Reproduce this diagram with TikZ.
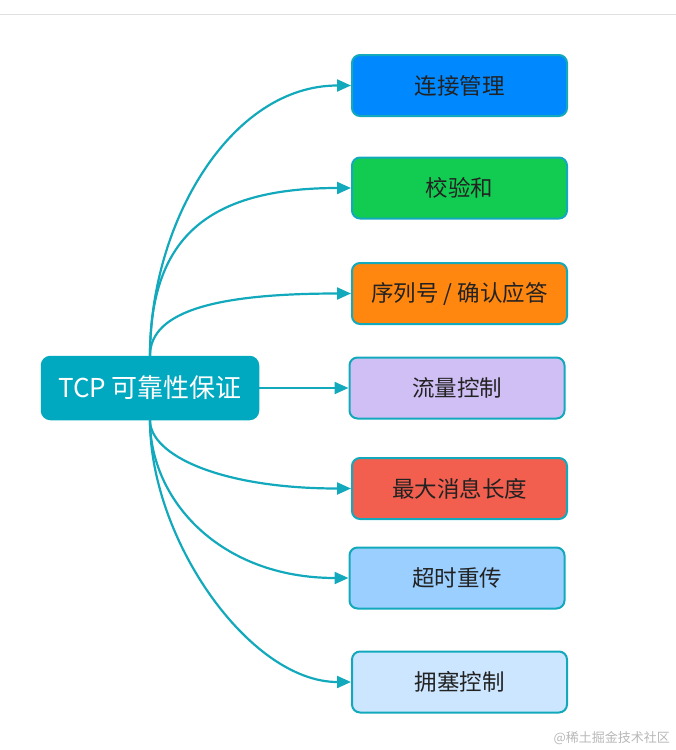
\documentclass[tikz,border=0pt]{standalone}
\usepackage{fontspec}
\setmainfont{Noto Sans CJK SC}
\usetikzlibrary{arrows.meta}
\definecolor{rootfill}{HTML}{00A9C0}
\definecolor{edge}{HTML}{13A9BC}
\definecolor{cA}{HTML}{0088FF}
\definecolor{cB}{HTML}{12CC52}
\definecolor{cC}{HTML}{FF870F}
\definecolor{cD}{HTML}{D0BFF5}
\definecolor{cE}{HTML}{F25F4E}
\definecolor{cF}{HTML}{9BCFFF}
\definecolor{cG}{HTML}{CCE6FF}
\definecolor{txt}{HTML}{222222}
\begin{document}
\begin{tikzpicture}[x=1pt,y=-1pt,
  rootbox/.style={draw=rootfill,fill=rootfill,rounded corners=9pt,line width=1.5pt,
    minimum width=217pt,minimum height=63pt,inner sep=0pt,text=white,
    font=\fontsize{26}{30}\selectfont},
  leaf/.style={draw=edge,rounded corners=8pt,line width=2pt,
    minimum width=215pt,minimum height=61pt,inner sep=0pt,text=txt,
    font=\fontsize{22.5}{27}\selectfont},
  link/.style={draw=edge,line width=2.2pt,-{Triangle[length=14pt,width=12pt]}}]
\useasboundingbox (0,0) rectangle (676,750);
\draw[line width=1pt,draw=black!12] (0,14.5) -- (676,14.5);
\node[rootbox] (root) at (150,388) {TCP 可靠性保证};
\node[leaf,fill=cA] (a) at (459.5,85.5) {连接管理};
\node[leaf,fill=cB] (b) at (459.5,188) {校验和};
\node[leaf,fill=cC] (c) at (459.5,293.5) {序列号 / 确认应答};
\node[leaf,fill=cD] (d) at (457,388) {流量控制};
\node[leaf,fill=cE] (e) at (459.5,488.5) {最大消息长度};
\node[leaf,fill=cF] (f) at (457,578) {超时重传};
\node[leaf,fill=cG] (g) at (459.5,682) {拥塞控制};
\draw[link] (root.north) .. controls (150,224) and (230,85.5) .. (a.west);
\draw[link] (root.north) .. controls (150,240) and (205,188) .. (b.west);
\draw[link] (root.north) .. controls (150,310) and (220,293.5) .. (c.west);
\draw[link] (root.east) -- (d.west);
\draw[link] (root.south) .. controls (150,455) and (220,488.5) .. (e.west);
\draw[link] (root.south) .. controls (150,500) and (220,578) .. (f.west);
\draw[link] (root.south) .. controls (150,540) and (250,682) .. (g.west);
\node[anchor=east,text=black!28,font=\fontsize{13}{15}\selectfont,inner sep=0pt] (wm) at (670,738) {@稀土掘金技术社区};
\end{tikzpicture}
\end{document}
